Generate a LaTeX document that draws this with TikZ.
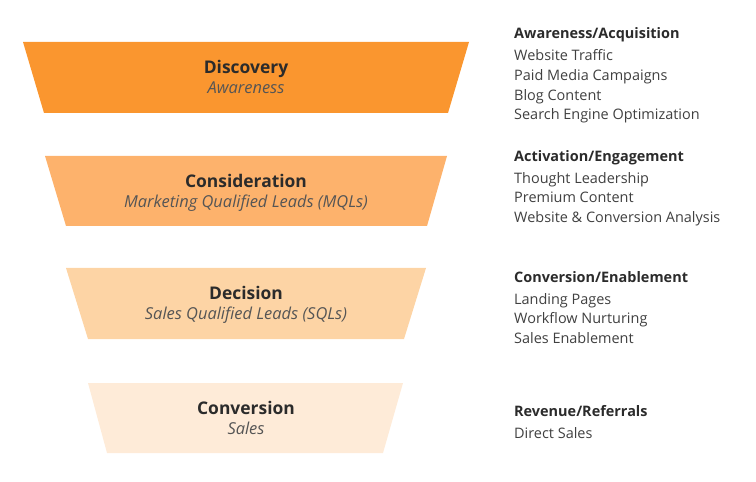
\documentclass[tikz,border=0pt]{standalone}
\usepackage{fontspec}
\setmainfont{Open Sans}
\usepackage{xcolor}
\usetikzlibrary{positioning}

\definecolor{cam1}{HTML}{FA962F}
\definecolor{cam2}{HTML}{FDB26C}
\definecolor{cam3}{HTML}{FDD4A5}
\definecolor{cam4}{HTML}{FEEBD8}
\definecolor{chu}{HTML}{2B2B2B}

\tikzset{
  tieude/.style={font=\fontsize{17.5}{20}\selectfont\bfseries, text=chu, inner sep=0pt, anchor=base},
  phude/.style={font=\fontsize{16.5}{19}\selectfont\itshape, text=chu!80, inner sep=0pt, anchor=base},
  nhom/.style={font=\fontsize{14.5}{17}\selectfont\bfseries, text=chu, inner sep=0pt, anchor=west},
  muc/.style={font=\fontsize{14.5}{19.7}\selectfont, text=chu!90, inner sep=0pt, align=left, anchor=west}
}

\begin{document}
\begin{tikzpicture}[x=1bp, y=-1bp, >=stealth]
    % --- KHUNG: giữ đúng kích thước ảnh ---
    \useasboundingbox (0,0) rectangle (756,482);
    \def\cx{246}

    % Vẽ bốn hình thang của phễu
    \fill[cam1] (23,42) -- (469,42) -- (448,113) -- (44,113) -- cycle;
    \fill[cam2] (45,156) -- (447,156) -- (427,226) -- (66,226) -- cycle;
    \fill[cam3] (66,268) -- (426,268) -- (404,339) -- (88,339) -- cycle;
    \fill[cam4] (88,383) -- (403,383) -- (383,453) -- (107,453) -- cycle;

    % Tên từng tầng (đặt theo đường chân chữ)
    \node[tieude] (discovery) at (\cx,74) {Discovery};
    \node[phude] (awareness) at (\cx,94) {Awareness};
    \node[tieude] (consideration) at (\cx,187.5) {Consideration};
    \node[phude] (mqls) at (\cx,207.5) {Marketing Qualified Leads (MQLs)};
    \node[tieude] (decision) at (\cx,299.5) {Decision};
    \node[phude] (sqls) at (\cx,319.5) {Sales Qualified Leads (SQLs)};
    \node[tieude] (conversion) at (\cx,414.5) {Conversion};
    \node[phude] (sales) at (\cx,434.5) {Sales};

    % Cột bên phải
    \node[nhom] (acquisition) at (514,35) {Awareness/Acquisition};
    \node[muc] (acquisitionlist) at (514,86.5) {Website Traffic\\Paid Media Campaigns\\Blog Content\\Search Engine Optimization};
    \node[nhom] (engagement) at (514,158) {Activation/Engagement};
    \node[muc] (engagementlist) at (514,199) {Thought Leadership\\Premium Content\\Website \& Conversion Analysis};
    \node[nhom] (enablement) at (514,277.5) {Conversion/Enablement};
    \node[muc] (enablementlist) at (514,318.5) {Landing Pages\\Workflow Nurturing\\Sales Enablement};
    \node[nhom] (referrals) at (514,411.5) {Revenue/Referrals};
    \node[muc] (referralslist) at (514,433.5) {Direct Sales};
\end{tikzpicture}
\end{document}
